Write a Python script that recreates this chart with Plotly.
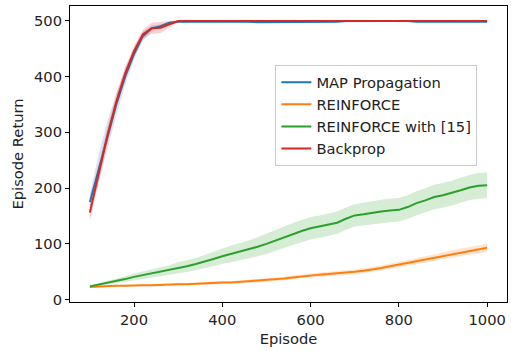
import plotly.graph_objects as go

episodes = list(range(100, 1001, 20))

map_mean = [175, 235, 295, 350, 400, 440, 472, 486, 490, 496, 498, 498, 499, 499, 499, 499, 499, 498, 498, 497,
            497, 497, 497, 497, 498, 498, 498, 498, 498, 499, 499, 499, 499, 499, 500, 499, 499, 498, 498, 498,
            498, 498, 498, 498, 498, 498]
map_sd = [15, 25, 25, 20, 15, 10, 8, 5, 3, 2, 2, 2, 2, 2, 2, 2, 2, 2, 2, 2,
          2, 2, 2, 2, 2, 2, 2, 2, 2, 2, 2, 2, 2, 2, 2, 2, 2, 2, 2, 2,
          2, 2, 2, 2, 2, 2]

bp_mean = [156, 225, 295, 355, 405, 445, 475, 486, 487, 493, 499, 499, 499, 499, 499, 499, 499, 499, 499, 499,
           499, 499, 499, 499, 499, 499, 499, 499, 499, 499, 499, 499, 500, 500, 500, 500, 500, 499, 499, 499,
           499, 499, 499, 499, 499, 499]
bp_sd = [15, 15, 15, 12, 12, 10, 8, 10, 10, 6, 2, 1, 1, 1, 1, 1, 1, 1, 1, 1,
         1, 1, 1, 1, 1, 1, 1, 1, 1, 1, 1, 1, 1, 1, 1, 1, 1, 1, 1, 1,
         1, 1, 1, 1, 1, 1]

rf_mean = [23, 24, 24, 25, 25, 26, 26, 26, 27, 27, 28, 28, 29, 29, 30, 31, 31, 32, 33, 34,
           35, 36, 38, 40, 42, 44, 45, 46, 47, 48, 50, 52, 54, 57, 60, 63, 66, 69, 72, 75,
           79, 82, 85, 87, 90, 93]
rf_sd = [1, 1, 1, 1, 1.5, 1.5, 1.5, 2, 2, 2, 2, 2, 2, 2.5, 2.5, 2.5, 2.5, 3, 3, 3,
         3, 3, 3, 3.5, 3.5, 3.5, 4, 4, 4, 4, 4, 4.5, 4.5, 4.5, 5, 5, 5, 5.5, 5.5, 6,
         6, 6.5, 7, 7, 7.5, 8]

rf15_mean = [24, 27, 30, 33, 37, 41, 44, 47, 50, 53, 57, 60, 64, 68, 73, 78, 82, 86, 90, 95,
             100, 106, 112, 118, 123, 128, 131, 134, 138, 145, 151, 153, 156, 158, 160, 161, 166, 173, 178, 184,
             187, 191, 196, 201, 204, 205]
rf15_sd = [2, 3, 3.5, 4, 5, 6, 6.5, 7, 8, 9, 10, 10.5, 11, 12, 13, 14, 15, 15.5, 16, 17,
           18, 18.5, 19, 19.5, 20, 20, 20, 20, 20, 20, 20, 20.5, 20.5, 21, 21, 21, 21, 21.5, 21.5, 22,
           22, 22, 22.5, 22.5, 23, 23]

series = [
    ("MAP Propagation", map_mean, map_sd, "#1f77b4", "rgba(31,119,180,0.2)"),
    ("REINFORCE", rf_mean, rf_sd, "#ff7f0e", "rgba(255,127,14,0.2)"),
    ("REINFORCE with [15]", rf15_mean, rf15_sd, "#2ca02c", "rgba(44,160,44,0.2)"),
    ("Backprop", bp_mean, bp_sd, "#d62728", "rgba(214,39,40,0.2)"),
]

fig = go.Figure()
for name, mean, sd, col, fcol in series:
    upper = [m + s for m, s in zip(mean, sd)]
    lower = [m - s for m, s in zip(mean, sd)]
    fig.add_trace(go.Scatter(x=episodes + episodes[::-1], y=upper + lower[::-1],
                             fill="toself", fillcolor=fcol, line=dict(width=0),
                             mode="lines", showlegend=False, hoverinfo="skip"))
    fig.add_trace(go.Scatter(x=episodes, y=mean, mode="lines", name=name,
                             line=dict(color=col, width=2)))

FS = 14.7
axis_common = dict(showline=True, linecolor="black", linewidth=1, mirror=True,
                   ticks="outside", ticklen=4, tickcolor="black", showgrid=False,
                   zeroline=False, automargin=False, tickfont=dict(size=FS, color="#222"))

fig.update_layout(
    width=511, height=351,
    margin=dict(l=70, r=4, t=6, b=49),
    plot_bgcolor="white", paper_bgcolor="white",
    font=dict(family="DejaVu Sans", size=FS, color="#222"),
    xaxis=dict(range=[55, 1045], tickvals=[200, 400, 600, 800, 1000],
               title=dict(text="Episode", font=dict(size=FS), standoff=7), **axis_common),
    yaxis=dict(range=[-4, 526], tickvals=[0, 100, 200, 300, 400, 500],
               title=dict(text="Episode Return", font=dict(size=FS), standoff=6), **axis_common),
    legend=dict(x=0.47, y=0.80, xanchor="left", yanchor="top",
                bordercolor="#cccccc", borderwidth=1, bgcolor="rgba(255,255,255,0.8)",
                font=dict(size=FS, color="#222"), itemwidth=30, tracegroupgap=0),
    showlegend=True,
)

fig.write_html("out.html", config={"displayModeBar": False},
               post_script="document.body.style.margin='0';")
